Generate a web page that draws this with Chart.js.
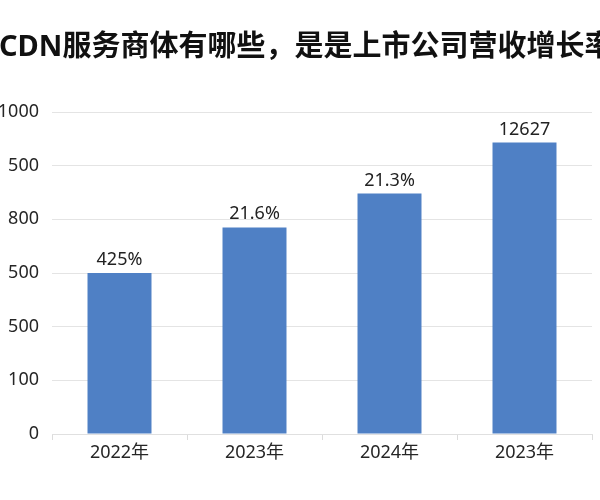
<!DOCTYPE html>
<html>
<head>
<meta charset="utf-8">
<script src="https://cdn.jsdelivr.net/npm/chart.js@4/dist/chart.umd.min.js"></script>
<style>
  html, body { margin: 0; padding: 0; background: #fff; }
  #wrap { position: relative; width: 600px; height: 500px; overflow: hidden; }
  #title {
    position: absolute; left: -1px; top: 30px;
    font: bold 29px "Noto Sans", "Noto Sans CJK SC", sans-serif;
    line-height: 29px; color: #111; white-space: nowrap;
  }
  canvas { position: absolute; left: 0; top: 0; }
</style>
</head>
<body>
<div id="wrap">
  <canvas id="revenueChart" width="600" height="500"></canvas>
  <div id="title">CDN服务商体有哪些，是是上市公司营收增长率</div>
</div>
<script>
// categories and bar heights (in grid steps)
const years = ["2022年", "2023年", "2024年", "2023年"];
const barValues = [3.0, 3.85, 4.48, 5.43];
const barLabels = ["425%", "21.6%", "21.3%", "12627"];
const tickLabels = ["0", "100", "500", "500", "800", "500", "1000"];

const fontFamily = '"Noto Sans", "Noto Sans CJK SC", sans-serif';

// draws the text above each bar
const barLabelPlugin = {
  id: "barLabels",
  afterDatasetsDraw(chart) {
    const ctx = chart.ctx;
    const meta = chart.getDatasetMeta(0);
    ctx.save();
    ctx.font = "18px " + fontFamily;
    ctx.fillStyle = "#222";
    ctx.textAlign = "center";
    ctx.textBaseline = "alphabetic";
    meta.data.forEach((bar, i) => {
      ctx.fillText(barLabels[i], bar.x, bar.y - 8);
    });
    ctx.restore();
  },
};

const ctx = document.getElementById("revenueChart").getContext("2d");
const revenueChart = new Chart(ctx, {
  type: "bar",
  data: {
    labels: years,
    datasets: [
      {
        data: barValues,
        backgroundColor: "#4f80c5",
        barPercentage: 0.474,
        categoryPercentage: 1,
      },
    ],
  },
  options: {
    responsive: false,
    animation: false,
    layout: {
      padding: { top: 112, right: 8, left: 0, bottom: 0 },
    },
    scales: {
      y: {
        min: 0,
        max: 6,
        afterFit(scale) {
          scale.width = 52;
        },
        border: { display: false },
        grid: {
          color: "#e4e4e4",
          drawTicks: false,
        },
        ticks: {
          stepSize: 1,
          padding: 13,
          color: "#262626",
          font: { size: 18, family: fontFamily },
          callback: (value) => tickLabels[value],
        },
      },
      x: {
        afterFit(scale) {
          scale.height = 66;
        },
        border: { display: true, color: "#e0e0e0" },
        grid: {
          offset: true,
          drawOnChartArea: false,
          tickLength: 6,
          color: "#dcdcdc",
        },
        ticks: {
          padding: 2,
          color: "#262626",
          font: { size: 18, family: fontFamily },
        },
      },
    },
    plugins: {
      legend: { display: false },
      tooltip: { enabled: false },
      title: { display: false },
    },
  },
  plugins: [barLabelPlugin],
});
</script>
</body>
</html>
